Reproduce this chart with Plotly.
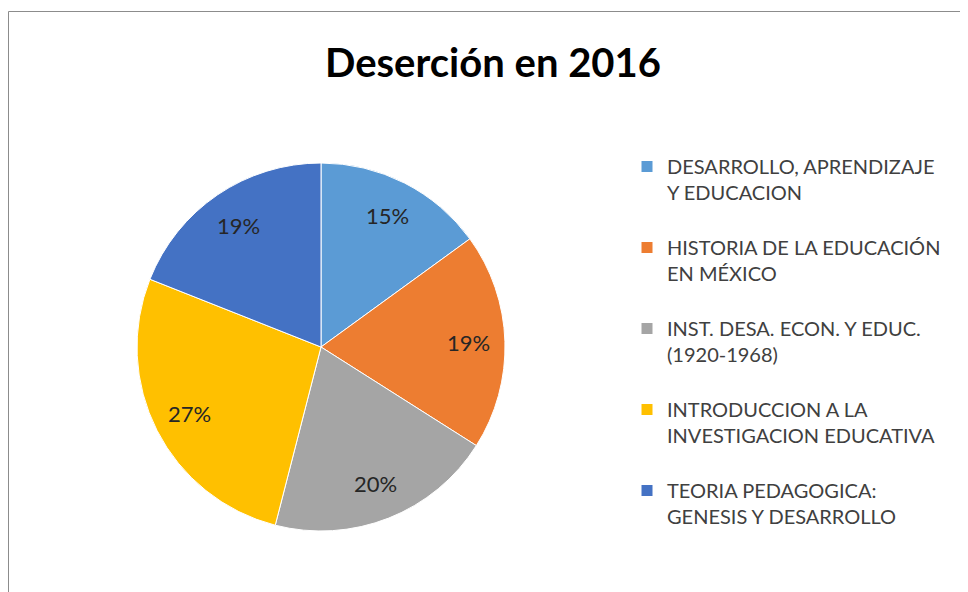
import math
import plotly.graph_objects as go

categories = [
    "DESARROLLO, APRENDIZAJE<br>Y EDUCACION",
    "HISTORIA DE LA EDUCACIÓN<br>EN MÉXICO",
    "INST. DESA. ECON. Y EDUC.<br>(1920-1968)",
    "INTRODUCCION A LA<br>INVESTIGACION EDUCATIVA",
    "TEORIA PEDAGOGICA:<br>GENESIS Y DESARROLLO",
]
values = [15, 19, 20, 27, 19]
colors = ["#5B9BD5", "#ED7D31", "#A5A5A5", "#FFC000", "#4472C4"]
title_text = "Deserción en 2016"

W, H = 968, 592
# page body offsets the figure by 8px; coordinates below are figure coordinates
cx, cy, r = 313, 339, 184
label_r = 0.8

fig = go.Figure(go.Pie(
    labels=[c + "<br> " for c in categories],
    values=values,
    sort=False,
    direction="clockwise",
    rotation=0,
    marker=dict(colors=colors, line=dict(color="white", width=1)),
    textinfo="none",
    domain=dict(x=[(cx - r) / W, (cx + r) / W], y=[1 - (cy + r) / H, 1 - (cy - r) / H]),
    hoverinfo="label+percent",
))

# percentage labels placed at the middle angle of each slice (computed from the values)
total = sum(values)
annotations = []
cum = 0
for v in values:
    mid = (cum + v / 2) / total * 2 * math.pi
    cum += v
    px = cx + label_r * r * math.sin(mid)
    py = cy - label_r * r * math.cos(mid)
    annotations.append(dict(
        x=px / W, y=1 - py / H, xref="paper", yref="paper",
        text=f"{round(v / total * 100)}%", showarrow=False,
        xanchor="center", yanchor="middle",
        font=dict(family="Lato", size=22, color="#262626"),
    ))

fig.update_layout(
    width=W, height=H,
    margin=dict(l=0, r=0, t=0, b=0, autoexpand=False),
    paper_bgcolor="white",
    title=dict(text="<b>" + title_text + "</b>", x=485 / W, y=1 - 55 / H,
               xanchor="center", yanchor="middle",
               font=dict(family="Lato", size=40, color="black")),
    legend=dict(x=619 / W, y=1 - 139 / H, xanchor="left", yanchor="top",
                valign="top", font=dict(family="Lato", size=20, color="#404040"),
                bgcolor="rgba(0,0,0,0)", tracegroupgap=0),
    annotations=annotations,
    shapes=[
        dict(type="line", xref="paper", yref="paper", x0=0.5 / W, x1=1.0, y0=1 - 3.5 / H, y1=1 - 3.5 / H,
             line=dict(color="#8C8C8C", width=1)),
        dict(type="line", xref="paper", yref="paper", x0=0.5 / W, x1=0.5 / W, y0=0, y1=1 - 3.5 / H,
             line=dict(color="#8C8C8C", width=1)),
    ],
)

fig.write_html("out.html")
